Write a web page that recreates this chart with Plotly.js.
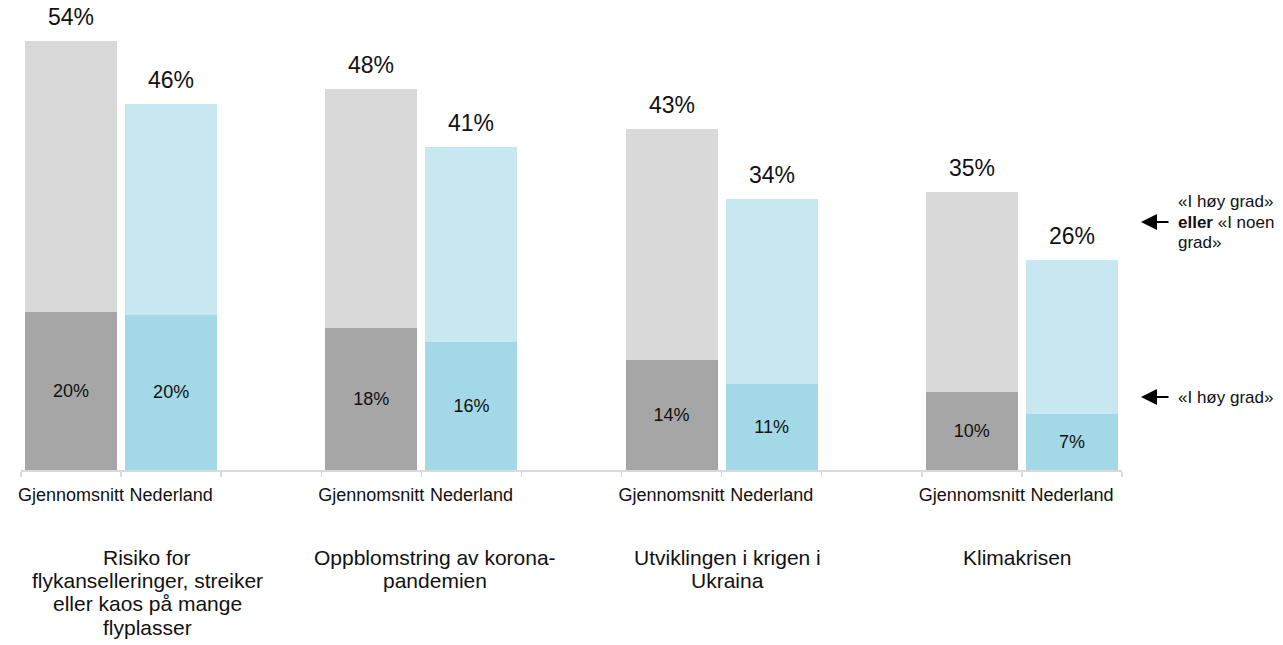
<!DOCTYPE html>
<html>
<head>
<meta charset="utf-8">
<script src="https://cdn.plot.ly/plotly-3.0.1.min.js"></script>
<style>html,body{margin:0;padding:0;background:#fff;}#chart{width:1283px;height:645px;}</style>
</head>
<body>
<div id="chart"></div>
<script>
// ---- data ----
const seriesNames = ['Gjennomsnitt', 'Nederland'];
const groupLabels = [
  ['Risiko for', 'flykanselleringer, streiker', 'eller kaos på mange', 'flyplasser'],
  ['Oppblomstring av korona-', 'pandemien'],
  ['Utviklingen i krigen i', 'Ukraina'],
  ['Klimakrisen']
];
const avgHighDegree = [19.9, 17.8, 13.8, 9.8];     // «I høy grad» – Gjennomsnitt
const avgTotal      = [53.9, 47.9, 42.9, 34.9];    // «I høy grad» eller «I noen grad» – Gjennomsnitt
const nedHighDegree = [19.5, 16.1, 10.8, 7.0];     // «I høy grad» – Nederland
const nedTotal      = [46.0, 40.6, 34.0, 26.4];    // «I høy grad» eller «I noen grad» – Nederland
const legendTotal = ['«I høy grad»', '<b>eller</b> «I noen', 'grad»'];
const legendHigh = '«I høy grad»';

// ---- layout constants ----
const FONT = 'Liberation Sans, Arial, sans-serif';
const PLOT_L = 21, PLOT_R = 1122, PLOT_T = 10, PLOT_B = 470;
const px2paperX = px => (px - PLOT_L) / (PLOT_R - PLOT_L);
const px2paperY = py => (PLOT_B - py) / (PLOT_B - PLOT_T);
const groupLabelCenters = [147, 435, 727, 1017];
const colors = {avgDark:'#a6a6a6', avgLight:'#d9d9d9', nedDark:'#a3d9e6', nedLight:'#c8e8f1'};

const n = avgTotal.length;
const avgX = [], nedX = [];
for (let i = 0; i < n; i++) { avgX.push(i * 3); nedX.push(i * 3 + 1); }
const pct = v => Math.round(v) + '%';
const diff = (a, b) => a.map((v, i) => +(v - b[i]).toFixed(2));

function darkTrace(x, y, color) {
  return {type:'bar', x:x, y:y, width:0.92, marker:{color:color, line:{width:0}},
    text:y.map(pct), textposition:'inside', insidetextanchor:'middle', textangle:0,
    textfont:{family:FONT, size:18, color:'#111'}, hoverinfo:'skip', showlegend:false, cliponaxis:false};
}
function lightTrace(x, y, color) {
  return {type:'bar', x:x, y:y, width:0.92, marker:{color:color, line:{width:0}},
    hoverinfo:'skip', showlegend:false};
}
const traces = [
  darkTrace(avgX, avgHighDegree, colors.avgDark),
  lightTrace(avgX, diff(avgTotal, avgHighDegree), colors.avgLight),
  darkTrace(nedX, nedHighDegree, colors.nedDark),
  lightTrace(nedX, diff(nedTotal, nedHighDegree), colors.nedLight)
];

const annotations = [];
// totals above bars
for (let i = 0; i < n; i++) {
  annotations.push({x:avgX[i], y:avgTotal[i], xref:'x', yref:'y', text:pct(avgTotal[i]), showarrow:false,
    yanchor:'middle', yshift:24, font:{family:FONT, size:23, color:'#111'}});
  annotations.push({x:nedX[i], y:nedTotal[i], xref:'x', yref:'y', text:pct(nedTotal[i]), showarrow:false,
    yanchor:'middle', yshift:24, font:{family:FONT, size:23, color:'#111'}});
}
// group labels
groupLabels.forEach((lines, g) => {
  lines.forEach((line, k) => {
    annotations.push({x:px2paperX(groupLabelCenters[g]), y:px2paperY(557 + 23.5 * k), xref:'paper', yref:'paper',
      text:line, showarrow:false, xanchor:'center', yanchor:'middle', font:{family:FONT, size:21, color:'#111'}});
  });
});
// right side notes
const noteX = px2paperX(1176);
[201, 222, 242].forEach((py, k) => {
  annotations.push({x:noteX, y:px2paperY(py), xref:'paper', yref:'paper', text:legendTotal[k], showarrow:false,
    xanchor:'left', yanchor:'middle', font:{family:FONT, size:17, color:'#111'}});
});
annotations.push({x:noteX, y:px2paperY(397), xref:'paper', yref:'paper', text:legendHigh, showarrow:false,
  xanchor:'left', yanchor:'middle', font:{family:FONT, size:17, color:'#111'}});
[222, 397].forEach(py => {
  annotations.push({x:px2paperX(1141), y:px2paperY(py), xref:'paper', yref:'paper', text:'', showarrow:true,
    ax:29, ay:0, arrowhead:2, arrowsize:1.6, arrowwidth:2, arrowcolor:'#000', standoff:0, startstandoff:0});
});

const tickVals = avgX.concat(nedX).sort((a, b) => a - b);
const tickText = tickVals.map(v => seriesNames[v % 3]);
const boundaries = [];
for (let b = -0.5; b <= 10.5; b += 1) boundaries.push(b);

const layout = {
  width:1283, height:645,
  margin:{l:PLOT_L, r:1283 - PLOT_R, t:PLOT_T, b:645 - PLOT_B, pad:0},
  paper_bgcolor:'#fff', plot_bgcolor:'#fff',
  barmode:'stack',
  showlegend:false,
  xaxis:{range:[-0.5, 10.5], tickmode:'array', tickvals:tickVals, ticktext:tickText, ticks:'',
    showline:true, linecolor:'#d9d9d9', linewidth:1.5, showgrid:false, zeroline:false,
    tickfont:{family:FONT, size:18, color:'#111'}, ticklabelstandoff:8,
    minor:{tickmode:'array', tickvals:boundaries, ticks:'outside', ticklen:5, tickcolor:'#d9d9d9', tickwidth:1.5, showgrid:false},
    fixedrange:true},
  yaxis:{range:[0, 460 / 7.96], visible:false, showgrid:false, zeroline:false, fixedrange:true},
  annotations:annotations,
  font:{family:FONT, color:'#111'}
};

Plotly.newPlot('chart', traces, layout, {displayModeBar:false, staticPlot:true});
</script>
</body>
</html>
